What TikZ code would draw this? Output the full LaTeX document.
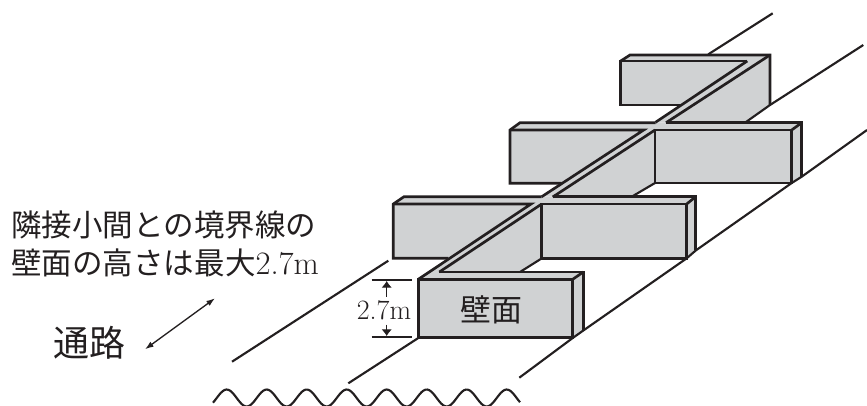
\documentclass[tikz,border=0pt]{standalone}
\usepackage{fontspec}
\usetikzlibrary{arrows.meta}
\newfontfamily\cjk{Noto Sans CJK JP}
\definecolor{wallgray}{HTML}{D0D2D3}
\definecolor{ink}{HTML}{231F20}
\tikzset{
    wallfill/.style={fill=wallgray},
    wallline/.style={draw=ink,line width=2pt,line join=miter},
    roadline/.style={draw=ink,line width=1.6pt},
    thinarrow/.style={draw=ink,line width=1pt,{Latex[length=6.5pt,width=4.5pt]}-{Latex[length=6.5pt,width=4.5pt]}},
    dimarrow/.style={draw=ink,line width=0.9pt,-{Latex[length=5pt,width=8pt]}},
    label/.style={text=ink,inner sep=0pt}
}

\begin{document}
\begin{tikzpicture}[x=0.75pt,y=-0.75pt]
    \useasboundingbox (0,0) rectangle (867,405);

    % Wall faces
    \path [wallfill] (620.7,61) -- (630,55) -- (770,55) -- (770,105) -- (745,122.7)
        -- (655,122.7) -- (681.7,105) -- (620.7,105) -- cycle;
    \path [wallfill] (510,130) -- (520,122.7) -- (801.7,122.7) -- (801.7,176.7)
        -- (791.7,183) -- (655,183) -- (631.7,196.7) -- (541.7,196.7)
        -- (561.7,183.3) -- (510,183.3) -- cycle;
    \path [wallfill] (393.3,204) -- (404,196.7) -- (695.7,196.7) -- (695.7,250)
        -- (686.7,258.3) -- (542.3,258.3) -- (520,272) -- (429,272)
        -- (448.3,258.3) -- (393.3,258.3) -- cycle;
    \path [wallfill] (418.3,279.3) -- (429,272) -- (583.3,272) -- (583.3,330)
        -- (572.7,337.3) -- (418.3,337.3) -- cycle;

    % Road lines
    \draw [roadline] (232,361.7) -- (388.3,260.7);
    \draw [roadline] (708.3,54.3) -- (772.7,13.3);
    \draw [roadline] (348.3,383.3) -- (418.3,338);
    \draw [roadline] (520,272) -- (542.3,258);
    \draw [roadline] (631.7,196.7) -- (655,183);
    \draw [roadline] (745,122.7) -- (770,105) -- (863.3,45);
    \draw [roadline] (519.3,377.7) -- (572.7,338) -- (583.3,330.5) -- (686.7,258.3)
        -- (695.7,250.5) -- (791.7,183) -- (801.7,176.7) -- (867,130);

    % Top wall
    \draw [wallline] (747.3,61) -- (620.7,61) -- (620.7,105) -- (681.7,105);
    \draw [wallline] (620.7,61) -- (630,55) -- (770,55) -- (770,105);
    \draw [wallline] (747.3,61) -- (655.5,122.3);
    \draw [wallline] (770,55) -- (666,122.7);

    % Second row of walls
    \draw [wallline] (655.5,122.7) -- (520,122.7) -- (510,130) -- (510,183.3) -- (561.7,183.3);
    \draw [wallline] (510,130) -- (643.7,130) -- (541.7,196.7);
    \draw [wallline] (655,130) -- (552.7,197);
    \draw [wallline] (666,122.7) -- (801.7,122.7) -- (801.7,176.7);
    \draw [wallline] (655,130) -- (791.7,130) -- (791.7,183) -- (655,183) -- cycle;
    \draw [wallline] (791.7,130) -- (801.7,122.7);

    % Third row of walls
    \draw [wallline] (541.7,196.7) -- (404,196.7) -- (393.3,204) -- (393.3,258.3) -- (448.3,258.3);
    \draw [wallline] (393.3,204) -- (531,204) -- (418.3,279.3);
    \draw [wallline] (541.7,204) -- (439.3,272);
    \draw [wallline] (552.7,196.7) -- (695.7,196.7) -- (695.7,250);
    \draw [wallline] (541.7,204) -- (686.7,204) -- (686.7,258.3) -- (541.7,258.3) -- cycle;
    \draw [wallline] (686.7,204) -- (695.7,196.7);

    % Front wall
    \draw [wallline] (418.3,279.3) -- (572.7,279.3) -- (572.7,337.3) -- (418.3,337.3) -- cycle;
    \draw [wallline] (439.3,272) -- (583.3,272) -- (583.3,330);
    \draw [wallline] (572.7,279.3) -- (583.3,272);

    % Wavy cut
    \draw [roadline] plot [domain=213:520,samples=160] (\x,{398-8.5*cos(9*(\x-226.7))});

    % Dimension
    \draw [roadline] (371.7,280) -- (411.7,280);
    \draw [roadline] (371.7,336.7) -- (411.7,336.7);
    \node [label,inner sep=3pt] (height) at (384,310.7) {\fontsize{21pt}{24pt}\selectfont 2.7m};
    \coordinate (heighttop) at (386.7,281);
    \coordinate (heightbot) at (386.7,336);
    \draw [dimarrow] (heighttop |- height.north) -- (heighttop);
    \draw [dimarrow] (heightbot |- height.south) -- (heightbot);

    % Labels
    \node [label,anchor=west] (noteone) at (11,225)
        {\fontsize{22.9pt}{26pt}\selectfont\cjk 隣接小間との境界線の};
    \node [label,anchor=west] (notetwo) at (11,263)
        {\fontsize{22.9pt}{26pt}\selectfont{\cjk 壁面の高さは最大}\fontsize{24.5pt}{26pt}\selectfont 2.7m};
    \node [label] (aisle) at (89,343) {\fontsize{27pt}{30pt}\selectfont\cjk 通路};
    \node [label] (wallname) at (491,310) {\fontsize{23.2pt}{26pt}\selectfont\cjk 壁面};

    % Aisle direction
    \coordinate (aislea) at (145,349.3);
    \coordinate (aisleb) at (215,298.3);
    \draw [thinarrow] (aislea) -- (aisleb);
\end{tikzpicture}
\end{document}
